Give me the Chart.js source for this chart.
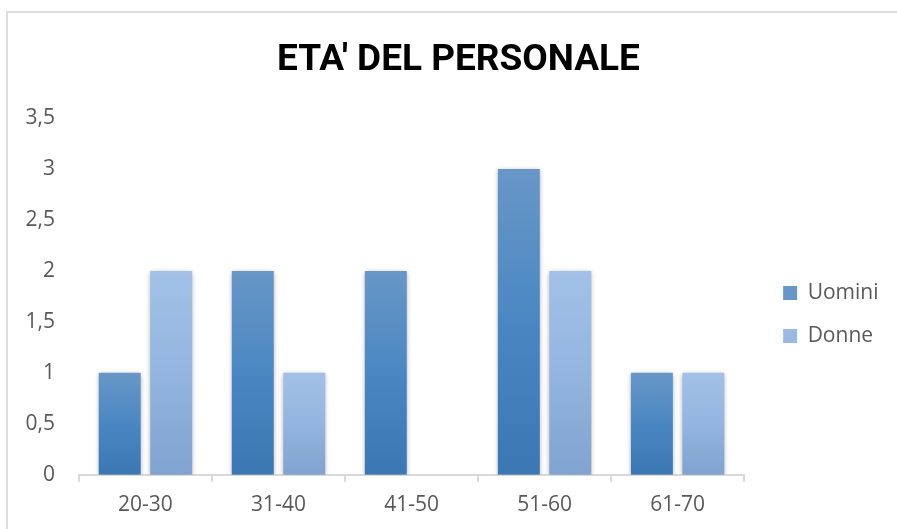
<!DOCTYPE html>
<html lang="it">
<head>
  <meta charset="UTF-8">
  <title>ETA' DEL PERSONALE</title>
  <script src="https://cdn.jsdelivr.net/npm/chart.js"></script>
  <style>
    body {
      margin: 0;
      background: #ffffff;
    }

    .frame {
      position: relative;
      width: 897px;
      height: 529px;
      overflow: hidden;
    }

    .frame .edge {
      position: absolute;
      left: 6px;
      top: 11px;
      right: -10px;
      bottom: -10px;
      border-top: 2px solid #dedede;
      border-left: 2px solid #dedede;
    }

    canvas {
      position: absolute;
      left: 0;
      top: 0;
    }
  </style>
</head>
<body>

<div class="frame">
  <div class="edge"></div>
  <canvas id="etaChart" width="897" height="529"></canvas>
</div>

<script>
  const categories = ['20-30', '31-40', '41-50', '51-60', '61-70'];
  const uomini = [1, 2, 2, 3, 1];
  const donne = [2, 1, 0, 2, 1];
  const yTicks = [0, 0.5, 1, 1.5, 2, 2.5, 3, 3.5];

  const textGray = '#595959';
  const axisGray = '#d9d9d9';

  // vertical gradient per bar, lighter on top like the Excel style
  function barFill(top, bottom, flat) {
    return function(context) {
      if (context.type !== 'data') return flat;
      const chart = context.chart;
      if (!chart.chartArea) return flat;
      const y = chart.scales.y;
      const y0 = y.getPixelForValue(context.parsed.y);
      const y1 = y.getPixelForValue(0);
      if (y1 - y0 < 1) return flat;
      const g = chart.ctx.createLinearGradient(0, y0, 0, y1);
      g.addColorStop(0, top);
      g.addColorStop(0.5, flat);
      g.addColorStop(1, bottom);
      return g;
    };
  }

  const barShadow = {
    id: 'barShadow',
    beforeDatasetsDraw(chart) {
      const ctx = chart.ctx;
      ctx.save();
      ctx.shadowColor = 'rgba(0,0,0,0.35)';
      ctx.shadowBlur = 5;
      ctx.shadowOffsetX = 0;
      ctx.shadowOffsetY = 1;
    },
    afterDatasetsDraw(chart) {
      chart.ctx.restore();
    }
  };

  // legend and title sit a bit further right in the original
  const nudge = {
    id: 'nudge',
    afterLayout(chart) {
      const lg = chart.legend;
      lg.left += 17;
      lg.right += 17;
      lg.top += 50;
      lg.bottom += 50;
      const tb = chart.titleBlock;
      tb.left += 22;
      tb.right += 22;
    }
  };

  new Chart(document.getElementById('etaChart'), {
    type: 'bar',
    data: {
      labels: categories,
      datasets: [{
        label: 'Uomini',
        data: uomini,
        backgroundColor: barFill('#6897c7', '#3b77b2', '#4a87c2'),
        categoryPercentage: 0.774,
        barPercentage: 0.815
      }, {
        label: 'Donne',
        data: donne,
        backgroundColor: barFill('#a3c1e7', '#80a4cf', '#93b5e0'),
        categoryPercentage: 0.774,
        barPercentage: 0.815
      }]
    },
    plugins: [barShadow, nudge],
    options: {
      responsive: false,
      animation: false,
      layout: {
        padding: { left: 1.5, right: 25.5, top: 0, bottom: 0 }
      },
      plugins: {
        title: {
          display: true,
          text: "ETA' DEL PERSONALE",
          color: '#000000',
          font: { family: "Roboto, 'Noto Sans', sans-serif", size: 37, weight: 'bold', lineHeight: 1.2 },
          padding: { top: 39, bottom: 34.6 }
        },
        legend: {
          position: 'right',
          labels: {
            color: textGray,
            boxWidth: 14,
            boxHeight: 14,
            padding: 22,
            font: { family: "'Open Sans', sans-serif", size: 21 }
          }
        },
        tooltip: { enabled: false }
      },
      scales: {
        x: {
          grid: {
            drawOnChartArea: false,
            drawTicks: true,
            tickLength: 7,
            color: axisGray,
            lineWidth: 2
          },
          border: { color: axisGray, width: 2 },
          ticks: {
            color: textGray,
            padding: 11,
            font: { family: "'Open Sans', sans-serif", size: 21 }
          }
        },
        y: {
          min: 0,
          max: 3.5,
          grid: { display: false, drawTicks: false },
          border: { display: false },
          afterBuildTicks(scale) {
            scale.ticks = yTicks.map(v => ({ value: v }));
          },
          ticks: {
            color: textGray,
            padding: 24,
            font: { family: "'Open Sans', sans-serif", size: 21 },
            callback: function(value) {
              return String(value).replace('.', ',');
            }
          }
        }
      }
    }
  });
</script>

</body>
</html>
